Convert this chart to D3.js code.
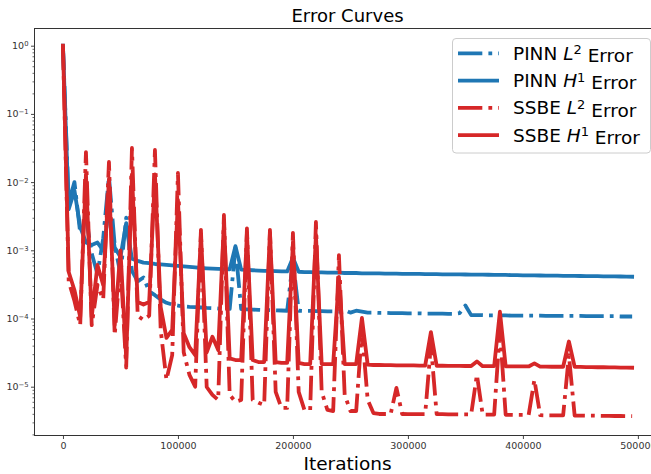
<!DOCTYPE html>
<html>
<head>
<meta charset="utf-8">
<script src="https://cdn.jsdelivr.net/npm/d3@7"></script>
<style>
  html, body { margin: 0; padding: 0; background: #fff; }
  svg { display: block; font-family: "DejaVu Sans", sans-serif; }
</style>
</head>
<body>
<svg id="chart" width="651" height="474"></svg>
<script>
// Training checkpoints, logged every 5000 iterations
const iterations = d3.range(0, 500000, 5000);

const pinnL2 = [
  1, 5.0e-3, 1.0e-2, 1.8e-3, 3.0e-3, 9.0e-4, 4.5e-4, 1.5e-3, 1.2e-2, 1.2e-3,
  4.5e-4, 3.0e-3, 5.0e-4, 3.5e-4, 4.0e-4, 2.5e-4, 2.2e-4, 1.9e-4, 1.7e-4, 1.6e-4,
  1.55e-4, 1.5e-4, 1.48e-4, 1.47e-4, 1.45e-4, 1.43e-4, 1.42e-4, 1.4e-4, 1.4e-4, 1.38e-4,
  1.1e-3, 1.37e-4, 1.36e-4, 1.35e-4, 1.34e-4, 1.33e-4, 1.33e-4, 1.32e-4, 1.31e-4, 1.3e-4,
  7.0e-4, 1.3e-4, 1.29e-4, 1.29e-4, 1.28e-4, 1.28e-4, 1.27e-4, 1.27e-4, 1.26e-4, 1.33e-4,
  1.22e-4, 1.3e-4, 1.26e-4, 1.22e-4, 1.22e-4, 1.21e-4, 1.21e-4, 1.2e-4, 1.2e-4, 1.2e-4,
  1.19e-4, 1.19e-4, 1.19e-4, 1.18e-4, 1.18e-4, 1.18e-4, 1.18e-4, 1.17e-4, 1.17e-4, 1.2e-4,
  1.55e-4, 1.12e-4, 1.12e-4, 1.12e-4, 1.11e-4, 1.11e-4, 1.11e-4, 1.11e-4, 1.1e-4, 1.1e-4,
  1.1e-4, 1.1e-4, 1.1e-4, 1.1e-4, 1.09e-4, 1.09e-4, 1.09e-4, 1.09e-4, 1.09e-4, 1.09e-4,
  1.09e-4, 1.08e-4, 1.08e-4, 1.08e-4, 1.08e-4, 1.08e-4, 1.08e-4, 1.07e-4, 1.07e-4, 1.07e-4
];

const pinnH1 = [
  1, 4.0e-3, 7.5e-3, 2.2e-3, 1.3e-3, 1.2e-3, 1.3e-3, 1.0e-3, 4.0e-3, 1.1e-3,
  8.0e-4, 2.5e-3, 7.5e-4, 7.0e-4, 6.6e-4, 6.5e-4, 6.3e-4, 6.2e-4, 6.1e-4, 6.0e-4,
  5.9e-4, 5.8e-4, 5.7e-4, 5.6e-4, 5.5e-4, 5.45e-4, 5.4e-4, 5.35e-4, 5.3e-4, 5.25e-4,
  1.15e-3, 5.2e-4, 5.15e-4, 5.1e-4, 5.05e-4, 5.0e-4, 5.0e-4, 4.95e-4, 4.9e-4, 4.9e-4,
  7.8e-4, 4.85e-4, 4.8e-4, 4.8e-4, 4.75e-4, 4.75e-4, 4.7e-4, 4.7e-4, 4.7e-4, 4.65e-4,
  4.65e-4, 4.65e-4, 4.6e-4, 4.6e-4, 4.6e-4, 4.6e-4, 4.55e-4, 4.55e-4, 4.55e-4, 4.5e-4,
  4.5e-4, 4.5e-4, 4.5e-4, 4.48e-4, 4.47e-4, 4.46e-4, 4.45e-4, 4.45e-4, 4.44e-4, 4.43e-4,
  4.42e-4, 4.41e-4, 4.4e-4, 4.39e-4, 4.38e-4, 4.37e-4, 4.36e-4, 4.35e-4, 4.33e-4, 4.32e-4,
  4.3e-4, 4.29e-4, 4.28e-4, 4.27e-4, 4.26e-4, 4.25e-4, 4.24e-4, 4.23e-4, 4.22e-4, 4.21e-4,
  4.2e-4, 4.19e-4, 4.18e-4, 4.17e-4, 4.16e-4, 4.15e-4, 4.14e-4, 4.13e-4, 4.12e-4, 4.1e-4
];

const ssbeL2 = [
  1, 3.5e-4, 1.8e-4, 8.0e-5, 2.76e-2, 8.0e-5, 3.1e-4, 1.9e-4, 1.97e-2, 5.7e-5,
  6.5e-4, 1.9e-5, 3.16e-2, 1.1e-4, 9.5e-5, 1.1e-4, 2.96e-2, 6.8e-5, 1.26e-5, 2.9e-5,
  1.36e-2, 3.2e-5, 1.49e-5, 1.0e-5, 1.99e-3, 9.9e-6, 7.6e-6, 6.4e-6, 3.3e-3, 7.6e-6,
  6.0e-6, 6.4e-6, 2.1e-3, 6.4e-6, 5.8e-6, 5.4e-6, 1.99e-3, 8.4e-6, 4.9e-6, 4.9e-6,
  1.8e-3, 8.4e-6, 4.56e-6, 4.56e-6, 2.6e-3, 8.4e-6, 4.56e-6, 4.4e-6, 8.5e-4, 7.6e-6,
  4.4e-6, 4.4e-6, 6.8e-5, 6.4e-6, 4.1e-6, 3.98e-6, 3.98e-6, 3.98e-6, 9.6e-6, 3.98e-6,
  3.97e-6, 3.97e-6, 3.96e-6, 3.96e-6, 4.1e-5, 3.95e-6, 3.95e-6, 3.94e-6, 3.94e-6, 3.93e-6,
  3.93e-6, 3.92e-6, 1.5e-5, 3.9e-6, 3.9e-6, 3.9e-6, 6.8e-5, 3.88e-6, 3.87e-6, 3.86e-6,
  3.86e-6, 3.85e-6, 1.26e-5, 3.82e-6, 3.8e-6, 3.8e-6, 3.8e-6, 3.79e-6, 2.9e-5, 3.78e-6,
  3.77e-6, 3.76e-6, 3.76e-6, 3.75e-6, 3.74e-6, 3.73e-6, 3.72e-6, 3.72e-6, 3.71e-6, 3.7e-6
];

const ssbeH1 = [
  1, 4.8e-4, 2.6e-4, 1.05e-4, 1.3e-2, 1.05e-4, 6.1e-4, 3.1e-4, 1.1e-2, 8.0e-5,
  1.0e-3, 2.6e-5, 1.3e-2, 1.75e-4, 1.6e-4, 1.75e-4, 1.3e-2, 1.47e-4, 5.2e-5, 6.8e-5,
  5.5e-3, 6.1e-5, 3.8e-5, 2.9e-5, 1.7e-3, 3.2e-5, 5.4e-5, 3.45e-5, 2.6e-3, 2.6e-5,
  2.46e-5, 2.46e-5, 1.8e-3, 2.46e-5, 2.3e-5, 2.3e-5, 1.8e-3, 2.3e-5, 2.23e-5, 2.23e-5,
  1.3e-3, 2.23e-5, 2.15e-5, 2.15e-5, 1.68e-3, 2.15e-5, 2.15e-5, 2.15e-5, 4.06e-4, 2.15e-5,
  2.15e-5, 2.15e-5, 1.02e-4, 2.1e-5, 2.08e-5, 2.08e-5, 2.07e-5, 2.07e-5, 2.06e-5, 2.06e-5,
  2.05e-5, 2.05e-5, 2.04e-5, 2.04e-5, 6.3e-5, 2.03e-5, 2.03e-5, 2.02e-5, 2.02e-5, 2.02e-5,
  2.01e-5, 2.01e-5, 2.35e-5, 2.0e-5, 2.0e-5, 2.0e-5, 1.26e-4, 1.99e-5, 1.99e-5, 1.98e-5,
  1.98e-5, 1.98e-5, 2.2e-5, 1.97e-5, 1.97e-5, 1.96e-5, 1.96e-5, 1.96e-5, 4.6e-5, 1.95e-5,
  1.95e-5, 1.94e-5, 1.94e-5, 1.93e-5, 1.93e-5, 1.92e-5, 1.92e-5, 1.91e-5, 1.91e-5, 1.9e-5
];

const xTickValues = [0, 100000, 200000, 300000, 400000, 500000];
const yTickExponents = [0, -1, -2, -3, -4, -5];

const seriesList = [
  { method: "PINN", norm: "L", power: "2", values: pinnL2, color: "#1f77b4", dashed: true },
  { method: "PINN", norm: "H", power: "1", values: pinnH1, color: "#1f77b4", dashed: false },
  { method: "SSBE", norm: "L", power: "2", values: ssbeL2, color: "#d62728", dashed: true },
  { method: "SSBE", norm: "H", power: "1", values: ssbeH1, color: "#d62728", dashed: false }
];

const svg = d3.select("#chart");
const box = { left: 34.5, top: 28.5, right: 660.6, bottom: 435.5 };
const lineWidth = 3.8;
const dashDot = [6.4, 1.6, 1, 1.6].map(d => d * lineWidth).join(" ");

const x = d3.scaleLinear().domain([-24750, 519750]).range([box.left, box.right]);
const y = d3.scaleLog()
  .domain([Math.pow(10, -5.7155), Math.pow(10, 0.2522)])
  .range([box.bottom, box.top]);

svg.append("defs").append("clipPath").attr("id", "plot-clip")
  .append("rect")
  .attr("x", box.left).attr("y", box.top)
  .attr("width", box.right - box.left).attr("height", box.bottom - box.top);

// curves
const line = d3.line()
  .x((d, i) => x(iterations[i]))
  .y(d => y(d));

svg.append("g").attr("clip-path", "url(#plot-clip)")
  .selectAll("path")
  .data(seriesList)
  .join("path")
  .attr("d", s => line(s.values))
  .attr("fill", "none")
  .attr("stroke", s => s.color)
  .attr("stroke-width", lineWidth)
  .attr("stroke-linejoin", "round")
  .attr("stroke-linecap", s => s.dashed ? "butt" : "square")
  .attr("stroke-dasharray", s => s.dashed ? dashDot : null);

// axes
const tickColor = "#444";
const xAxis = svg.append("g")
  .attr("transform", `translate(0,${box.bottom})`)
  .call(d3.axisBottom(x).tickValues(xTickValues).tickFormat(d3.format("d"))
    .tickSize(3.5).tickSizeOuter(0).tickPadding(3));
xAxis.select(".domain").remove();
xAxis.selectAll(".tick line").attr("stroke", tickColor);
xAxis.selectAll(".tick text")
  .attr("fill", "#333")
  .style("font-family", "DejaVu Sans")
  .style("font-size", "9.5px");

const yMajor = yTickExponents.map(e => Math.pow(10, e));
const yMinor = [];
for (let e = -6; e <= 0; e++) {
  for (let m = 2; m <= 9; m++) {
    const v = m * Math.pow(10, e);
    if (v >= y.domain()[0] && v <= y.domain()[1]) yMinor.push(v);
  }
}

const yAxisMinor = svg.append("g")
  .attr("transform", `translate(${box.left},0)`)
  .call(d3.axisLeft(y).tickValues(yMinor).tickFormat("").tickSize(2).tickSizeOuter(0));
yAxisMinor.select(".domain").remove();
yAxisMinor.selectAll(".tick line").attr("stroke", tickColor).attr("stroke-width", 0.8);

const yAxis = svg.append("g")
  .attr("transform", `translate(${box.left},0)`)
  .call(d3.axisLeft(y).tickValues(yMajor).tickFormat("").tickSize(3.5).tickSizeOuter(0).tickPadding(2.5));
yAxis.select(".domain").remove();
yAxis.selectAll(".tick line").attr("stroke", tickColor);
yAxis.selectAll(".tick text")
  .attr("fill", "#333")
  .style("font-family", "DejaVu Sans")
  .style("font-size", "9.5px")
  .each(function (d) {
    const t = d3.select(this);
    const exp = Math.round(Math.log10(d));
    t.text(null);
    t.append("tspan").text("10");
    t.append("tspan").attr("dy", "-0.45em").style("font-size", "6.8px")
      .text(exp < 0 ? "\u2212" + Math.abs(exp) : String(exp));
  });

// frame
const spine = { stroke: "#333", width: 1 };
[
  [box.left, box.top, box.left, box.bottom],
  [box.left, box.bottom, box.right, box.bottom],
  [box.left, box.top, box.right, box.top],
  [box.right, box.top, box.right, box.bottom]
].forEach(([x1, y1, x2, y2]) => {
  svg.append("line")
    .attr("x1", x1).attr("y1", y1).attr("x2", x2).attr("y2", y2)
    .attr("stroke", spine.stroke).attr("stroke-width", spine.width)
    .attr("stroke-linecap", "square");
});

// titles
const midX = (box.left + box.right) / 2;
svg.append("text")
  .attr("x", midX).attr("y", 22)
  .attr("text-anchor", "middle")
  .attr("fill", "#000")
  .style("font-size", "18px")
  .text("Error Curves");

svg.append("text")
  .attr("x", midX).attr("y", 470)
  .attr("text-anchor", "middle")
  .attr("fill", "#000")
  .style("font-size", "18.5px")
  .text("Iterations");

// legend
const legend = svg.append("g");
legend.append("rect")
  .attr("x", 452.5).attr("y", 38.5)
  .attr("width", 198).attr("height", 114.5)
  .attr("rx", 3.5).attr("ry", 3.5)
  .attr("fill", "#fff").attr("fill-opacity", 0.8)
  .attr("stroke", "#cccccc").attr("stroke-width", 1);

const rowY = i => 53.3 + i * 27.25;
const entries = legend.selectAll("g.entry")
  .data(seriesList)
  .join("g")
  .attr("class", "entry")
  .attr("transform", (d, i) => `translate(0,${rowY(i)})`);

entries.append("line")
  .attr("x1", 458).attr("x2", 499)
  .attr("y1", 0).attr("y2", 0)
  .attr("stroke", s => s.color)
  .attr("stroke-width", lineWidth)
  .attr("stroke-linecap", "butt")
  .attr("stroke-dasharray", s => s.dashed ? dashDot : null);

const labels = entries.append("text")
  .attr("x", 513).attr("y", 6.6)
  .attr("fill", "#000")
  .style("font-size", "18.5px");
labels.append("tspan").text(s => s.method + " ");
labels.append("tspan").style("font-style", "italic").text(s => s.norm);
labels.append("tspan").attr("dy", "-0.42em").style("font-size", "13px").text(s => s.power);
labels.append("tspan").attr("dy", "0.42em").text(" Error");
</script>
</body>
</html>
